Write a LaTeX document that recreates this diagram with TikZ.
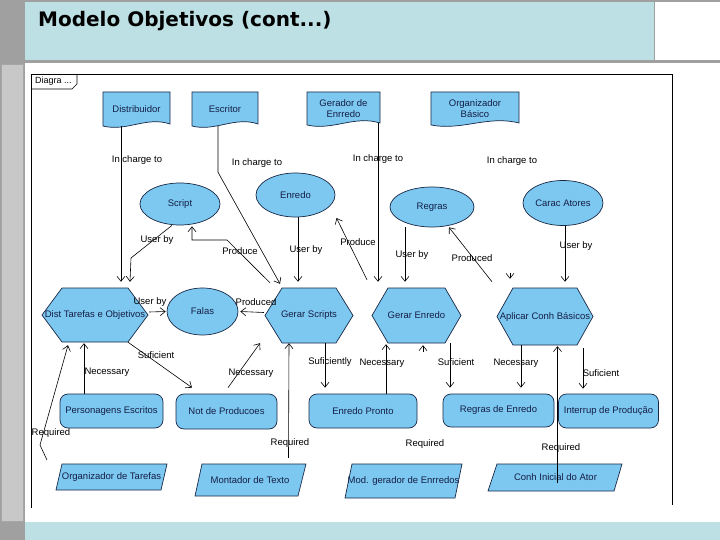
\documentclass[tikz,border=0pt]{standalone}
\usepackage{fontspec}
\setmainfont{Liberation Sans}
\newfontfamily\titlefont{DejaVu Sans}
\usetikzlibrary{shapes.geometric,arrows.meta,calc}
\definecolor{nodefill}{RGB}{125,200,240}
\definecolor{nodeline}{RGB}{25,40,70}
\definecolor{nodetext}{RGB}{20,30,70}
\definecolor{titleblue}{RGB}{188,224,228}
\definecolor{slgray}{RGB}{160,160,160}
\definecolor{panelgray}{RGB}{200,200,200}
% name, left, top, right, bottom, text
\newcommand{\actorbox}[6]{%
  \filldraw[shp] (#2,#3) -- (#4,#3) -- (#4,#5-2) .. controls ({#4-(#4-#2)*0.35},#5-10) and ({#2+(#4-#2)*0.35},#5+6) .. (#2,#5) -- cycle;
  \node[txt, minimum width={#4-#2}, minimum height={#5-#3}] (#1) at ({(#2+#4)/2},{(#3+#5)/2}) {#6};
}
% name, cx, cy, halfw, halfh, inset, text
\newcommand{\hexbox}[7]{%
  \filldraw[shp] (#2-#4,#3) -- (#2-#4+#6,#3-#5) -- (#2+#4-#6,#3-#5) -- (#2+#4,#3) -- (#2+#4-#6,#3+#5) -- (#2-#4+#6,#3+#5) -- cycle;
  \node[txt, minimum width={2*#4}, minimum height={2*#5}] (#1) at (#2,#3) {#7};
}
% name, top, bottom, topleft, topright, bottomleft, bottomright, text
\newcommand{\pgrambox}[8]{%
  \filldraw[shp] (#6,#3) -- (#4,#2) -- (#5,#2) -- (#7,#3) -- cycle;
  \node[txt, minimum width={#5-#6}, minimum height={#3-#2}] (#1) at ({(#4+#7)/2},{(#2+#3)/2}) {#8};
}
\begin{document}
\begin{tikzpicture}[x=1pt,y=-1pt,
  shp/.style={draw=nodeline, fill=nodefill, line width=0.7pt},
  txt/.style={font=\fontsize{9.5}{11.5}\selectfont, text=nodetext, inner sep=0pt, align=center},
  lbl/.style={font=\fontsize{9.5}{11.5}\selectfont, text=black, inner sep=0pt},
  arr/.style={draw=black, line width=0.6pt, -{Straight Barb[length=5pt,width=8pt]}},
  ellnode/.style={shp, txt, ellipse},
  rrnode/.style={shp, txt, rectangle, rounded corners=8pt},
]
\useasboundingbox (0,0) rectangle (720,540);
% slide background
\fill[white] (0,0) rectangle (720,540);
\fill[slgray] (0,0) rectangle (25,540);
\fill[slgray] (0,0) rectangle (720,2);
\fill[titleblue] (25,2) rectangle (654,60);
\draw[slgray, line width=1pt] (654.5,2) -- (654.5,60);
\fill[slgray] (0,60) rectangle (720,63);
\filldraw[fill=panelgray, draw=gray!70] (1,64) rectangle (23,521);
\fill[white] (25,63) rectangle (720,522);
\fill[titleblue] (25,522) rectangle (720,540);
\node[anchor=base west, inner sep=0pt, font={\titlefont\bfseries\fontsize{20}{22}\selectfont}] (title) at (38,27) {Modelo Objetivos (cont...)};
% diagram frame
\draw[black, line width=0.8pt] (31,508) -- (31,74) -- (672,74) -- (672,505);
\draw[black, line width=0.6pt] (31,89) -- (72,89) -- (77,84) -- (77,74);
\node[lbl, font=\fontsize{9}{11}\selectfont] (tab) at (53.5,81.5) {Diagra ...};
% actors
\actorbox{distr}{103}{92}{170}{126}{Distribuidor}
\actorbox{escr}{192}{92}{258}{126}{Escritor}
\actorbox{gerador}{307}{92}{380}{125}{Gerador de\\Enrredo}
\actorbox{orgbas}{431}{92}{519}{125}{Organizador\\Básico}
% ellipses
\node[ellnode, minimum width=80pt, minimum height=42pt] (script) at (180,204) {Script};
\node[ellnode, minimum width=79pt, minimum height=44pt] (enredo) at (295.5,195) {Enredo};
\node[ellnode, minimum width=84pt, minimum height=40pt] (regras) at (432,207) {Regras};
\node[ellnode, minimum width=80pt, minimum height=45pt] (carac) at (563,203) {Carac Atores};
\node[ellnode, minimum width=71pt, minimum height=47pt] (falas) at (202.5,311.5) {Falas};
% hexagons
\hexbox{dt}{95}{315}{53}{27}{20}{Dist Tarefas e Objetivos}
\hexbox{gs}{309}{315.5}{44}{27.5}{17}{Gerar Scripts}
\hexbox{ge}{416.5}{315.5}{44.5}{27.5}{16}{Gerar Enredo}
\hexbox{ac}{545}{316.5}{48}{28.5}{16}{Aplicar Conh Básicos}
% rounded rectangles
\node[rrnode, minimum width=103pt, minimum height=34pt] (pe) at (111.5,411) {Personagens Escritos};
\node[rrnode, minimum width=101pt, minimum height=35pt] (np) at (226.5,411.5) {Not de Producoes};
\node[rrnode, minimum width=108pt, minimum height=34pt] (ep) at (363,411) {Enredo Pronto};
\node[rrnode, minimum width=111pt, minimum height=33pt] (re) at (498.5,410.5) {Regras de Enredo};
\node[rrnode, minimum width=100pt, minimum height=34pt] (ip) at (608.5,411) {Interrup de Produção};
% parallelograms
\pgrambox{ot}{464}{490}{62}{167}{56}{161}{Organizador de Tarefas}
\pgrambox{mt}{464}{496}{202}{306}{195}{298}{Montador de Texto}
\pgrambox{mg}{464}{498}{352}{462}{345}{455}{Mod. gerador de Enrredos}
\pgrambox{ci}{464}{491}{497}{622}{488}{614}{Conh Inicial do Ator}
% connectors
\draw[arr] ($(distr.south)+(-15.5,0)$) -- ($(dt.north)+(26,-6)$);
\draw[arr] ($(escr.south)+(-7,0)$) -- ++(0,46) -- ($(gs.north)+(-29,-4)$);
\draw[arr] ($(gerador.south)+(34.5,-2)$) -- ($(ge.north)+(-38.5,-6)$);
\coordinate (oc) at (510,273);
\draw[arr] (oc) -- ($(ac.north)+(-35,-9)$);
\draw[arr] ($(script.south)+(-8,0)$) -- (131,258) -- ($(dt.north)+(35,-6)$);
\draw[arr] ($(gs.north)+(-39,-5)$) -- (227,240) -- (192,240) -- ($(script.south)+(12,1)$);
\draw[arr] ($(enredo.south)+(2.5,0)$) -- ($(gs.north)+(-11,-6)$);
\draw[arr] ($(ge.north)+(-49.5,-8)$) -- ($(enredo.center)+(41,23)$);
\draw[arr] ($(regras.south)+(-27,0)$) -- ($(ge.north)+(-11.5,-6)$);
\draw[arr] ($(ac.north)+(-53,-6)$) -- ($(regras.south)+(17,0)$);
\draw[arr] ($(carac.south)+(2,0)$) -- ($(ac.north)+(20,-6)$);
\draw[arr] ($(dt.east)+(1,-3)$) -- ($(falas.west)+(-1,0)$);
\draw[arr] ($(gs.west)+(-1,-3)$) -- ($(falas.east)+(2,0)$);
\draw[arr] ($(dt.south)+(33,0)$) -- ($(np.north)+(-34.5,-6)$);
\draw[arr] ($(pe.north)+(-27.5,0)$) -- ($(dt.south)+(-11,1)$);
\draw[arr] ($(ot.center)+(-64.5,-17)$) -- (40,445) -- ($(dt.south)+(-27,3)$);
\draw[arr] ($(np.north)+(1.5,-6)$) -- ($(gs.south)+(-49,0)$);
\draw[arr] ($(mt.north)+(38.5,-6)$) -- ($(gs.south)+(-20,0)$);
\draw[arr] ($(gs.south)+(16,0)$) -- ($(ep.north)+(-38,-6)$);
\draw[arr] ($(ep.north)+(23,0)$) -- ($(ge.south)+(-30.5,1)$);
\draw[arr] ($(ge.south)+(33.5,0)$) -- ($(re.north)+(-48.5,-6)$);
\coordinate (mgc) at (423,352);
\draw[arr] (mgc) -- ($(ge.south)+(6.5,2)$);
\draw[arr] ($(ac.south)+(-24,0)$) -- ($(re.north)+(22.5,-6)$);
\draw[arr] ($(ci.center)+(2,5.5)$) -- ($(ac.south)+(12.5,1)$);
\draw[arr] ($(ac.south)+(38,3)$) -- ($(ip.north)+(-25.5,-5)$);
% labels
\node[lbl] (l1) at (137,160) {In charge to};
\node[lbl] (l2) at (257,163) {In charge to};
\node[lbl] (l3) at (378,159) {In charge to};
\node[lbl] (l4) at (512,161) {In charge to};
\node[lbl] (l5) at (157,240) {User by};
\node[lbl] (l6) at (240,251) {Produce};
\node[lbl] (l7) at (306,250) {User by};
\node[lbl] (l8) at (358,242) {Produce};
\node[lbl] (l9) at (412,255) {User by};
\node[lbl] (l10) at (472,258) {Produced};
\node[lbl] (l11) at (576,246) {User by};
\node[lbl] (l12) at (150,302) {User by};
\node[lbl] (l13) at (256,302) {Produced};
\node[lbl] (l14) at (156,355) {Suficient};
\node[lbl] (l15) at (107,372) {Necessary};
\node[lbl] (l16) at (51,433) {Required};
\node[lbl] (l17) at (251,373) {Necessary};
\node[lbl] (l18) at (290,443) {Required};
\node[lbl] (l19) at (330,362) {Suficiently};
\node[lbl] (l20) at (382,363) {Necessary};
\node[lbl] (l21) at (456,362) {Suficient};
\node[lbl] (l22) at (425,444) {Required};
\node[lbl] (l23) at (516,363) {Necessary};
\node[lbl] (l24) at (561,448) {Required};
\node[lbl] (l25) at (601,373) {Suficient};
\end{tikzpicture}
\end{document}
